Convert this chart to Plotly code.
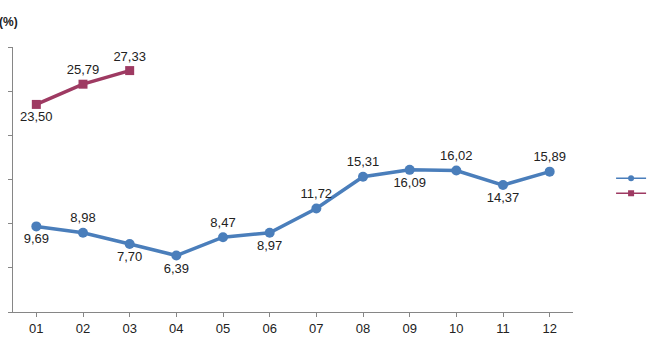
import plotly.graph_objects as go

months = ["01", "02", "03", "04", "05", "06", "07", "08", "09", "10", "11", "12"]
series_a_name = "2021"
series_a = [9.69, 8.98, 7.70, 6.39, 8.47, 8.97, 11.72, 15.31, 16.09, 16.02, 14.37, 15.89]
series_b_name = "2022"
series_b = [23.50, 25.79, 27.33]
y_ticks = [0, 5, 10, 15, 20, 25, 30]


def fmt(v):
    return f"{v:.2f}".replace(".", ",")


pos_a = ["bottom center", "top center", "bottom center", "bottom center", "top center",
         "bottom center", "top center", "top center", "bottom center", "top center",
         "bottom center", "top center"]
pos_b = ["bottom center", "top center", "top center"]

blue = "#4A7EBB"
red = "#9E3A62"
label_font = dict(family="Liberation Sans, Arial", size=13, color="#222222")

fig = go.Figure()
fig.add_trace(go.Scatter(
    x=months, y=series_a, name=series_a_name, mode="lines+markers+text",
    line=dict(color=blue, width=3.5),
    marker=dict(symbol="circle", size=10, color=blue),
    text=[fmt(v) for v in series_a], textposition=pos_a, textfont=label_font,
    cliponaxis=False, showlegend=False, hoverinfo="skip",
))
fig.add_trace(go.Scatter(
    x=months[:len(series_b)], y=series_b, name=series_b_name, mode="lines+markers+text",
    line=dict(color=red, width=3.5),
    marker=dict(symbol="square", size=9, color=red),
    text=[fmt(v) for v in series_b], textposition=pos_b, textfont=label_font,
    cliponaxis=False, showlegend=False, hoverinfo="skip",
))
# legend-only entries (thin line + small marker, as in the reference legend)
fig.add_trace(go.Scatter(
    x=[None], y=[None], name=series_a_name, mode="lines+markers",
    line=dict(color=blue, width=1.5), marker=dict(symbol="circle", size=6, color=blue),
    legend="legend", showlegend=True,
))
fig.add_trace(go.Scatter(
    x=[None], y=[None], name=series_b_name, mode="lines+markers",
    line=dict(color=red, width=1.5), marker=dict(symbol="square", size=6, color=red),
    legend="legend2", showlegend=True,
))

fig.update_layout(
    width=650, height=360, showlegend=True,
    margin=dict(l=13, r=77, t=47, b=48, autoexpand=False),
    paper_bgcolor="white", plot_bgcolor="white",
    font=dict(family="Liberation Sans, Arial", size=13, color="#222222"),
    xaxis=dict(
        type="category", categoryorder="array", categoryarray=months,
        range=[-0.5, 11.5], showline=True, linecolor="#868686", linewidth=1,
        ticks="outside", ticklen=4, tickcolor="#868686", showgrid=False,
        tickfont=dict(size=13, color="#222222"), zeroline=False,
    ),
    yaxis=dict(
        range=[0, 30], tickvals=y_ticks, showticklabels=False,
        showline=True, linecolor="#868686", linewidth=1,
        ticks="outside", ticklen=4, tickcolor="#868686",
        showgrid=False, zeroline=False,
    ),
    legend=dict(x=1.068, y=0.505, xanchor="left", yanchor="middle", visible=True,
                font=dict(size=10, color="#555555"), bgcolor="rgba(0,0,0,0)"),
    legend2=dict(x=1.068, y=0.448, xanchor="left", yanchor="middle", visible=True,
                 font=dict(size=10, color="#555555"), bgcolor="rgba(0,0,0,0)"),
    annotations=[dict(
        text="<b>(%)</b>", xref="paper", yref="paper", x=-0.029, y=1.095,
        xanchor="left", yanchor="middle", showarrow=False,
        font=dict(size=12, color="#222222"),
    )],
)

fig.write_html("out.html", config={"displayModeBar": False},
               post_script="document.body.style.margin='0';")
